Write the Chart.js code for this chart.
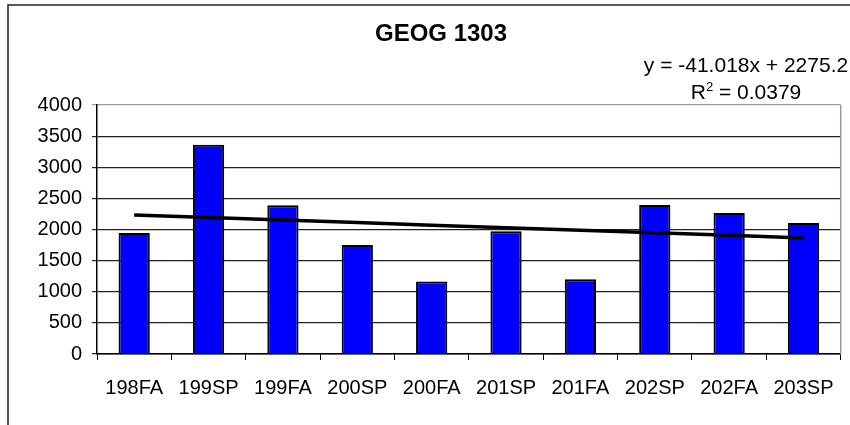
<!DOCTYPE html>
<html>
<head>
<meta charset="utf-8">
<title>GEOG 1303</title>
<script src="https://cdn.jsdelivr.net/npm/chart.js@4/dist/chart.umd.min.js"></script>
<style>
    html, body { margin: 0; padding: 0; background: #fff; }
    canvas { display: block; }
</style>
</head>
<body>
<canvas id="chart" width="850" height="425"></canvas>
<script>
// Terms along the x axis
const terms = ['198FA', '199SP', '199FA', '200SP', '200FA', '201SP', '201FA', '202SP', '202FA', '203SP'];

// Enrolment per term
const enrolment = [1945, 3360, 2390, 1750, 1165, 1970, 1200, 2395, 2265, 2105];

// Linear trendline as printed on the chart: y = slope * x + intercept
const trendSlope = -41.018;
const trendIntercept = 2275.2;
const trendR2 = 0.0379;

// Y axis range
const yMin = 0;
const yMax = 4000;
const yStep = 500;

const FONT = '"Liberation Sans", Arial, sans-serif';

// Excel numbers categories 1..n, so the trend is evaluated at those positions
const trendValues = terms.map((t, i) => trendIntercept + trendSlope * (i + 1));

/**
 * Draws the chart frame, the title and the trendline equation
 */
const decorations = {
    id: 'decorations',
    beforeDraw(chart) {
        const ctx = chart.ctx;
        ctx.save();
        ctx.fillStyle = '#fff';
        ctx.fillRect(0, 0, chart.width, chart.height);

        // Outer chart frame (runs off the right and bottom edges)
        ctx.strokeStyle = '#222';
        ctx.lineWidth = 1.5;
        ctx.beginPath();
        ctx.moveTo(8, chart.height + 2);
        ctx.lineTo(8, 5);
        ctx.lineTo(chart.width + 2, 5);
        ctx.stroke();
        ctx.restore();
    },
    afterDraw(chart) {
        const ctx = chart.ctx;
        const area = chart.chartArea;
        ctx.save();

        // Plot area border on the right side
        ctx.strokeStyle = '#999';
        ctx.lineWidth = 1.5;
        ctx.beginPath();
        ctx.moveTo(area.right, area.top);
        ctx.lineTo(area.right, area.bottom);
        ctx.stroke();

        // Title
        ctx.fillStyle = '#000';
        ctx.textAlign = 'center';
        ctx.textBaseline = 'alphabetic';
        ctx.font = 'bold 24px ' + FONT;
        ctx.fillText('GEOG 1303', 441, 41);

        // Trendline equation
        const cx = 746;
        ctx.font = '21px ' + FONT;
        const eq = 'y = ' + trendSlope.toFixed(3) + 'x + ' + trendIntercept.toFixed(1);
        ctx.fillText(eq, cx, 72);

        // R squared with a superscript 2
        const a = 'R';
        const b = ' = ' + trendR2.toFixed(4);
        ctx.font = '21px ' + FONT;
        const wa = ctx.measureText(a).width;
        const wb = ctx.measureText(b).width;
        ctx.font = '13px ' + FONT;
        const ws = ctx.measureText('2').width;
        let x = cx - (wa + ws + wb) / 2;
        ctx.textAlign = 'left';
        ctx.font = '21px ' + FONT;
        ctx.fillText(a, x, 99);
        x += wa;
        ctx.font = '13px ' + FONT;
        ctx.fillText('2', x, 91);
        x += ws;
        ctx.font = '21px ' + FONT;
        ctx.fillText(b, x, 99);

        ctx.restore();
    }
};

new Chart(document.getElementById('chart'), {
    type: 'bar',
    data: {
        labels: terms,
        datasets: [
            {
                type: 'line',
                label: 'Linear trend',
                data: trendValues,
                borderColor: '#000',
                borderWidth: 3.5,
                pointRadius: 0,
                tension: 0,
                fill: false,
                order: 0
            },
            {
                label: 'GEOG 1303',
                data: enrolment,
                backgroundColor: '#0000ff',
                borderColor: '#000',
                borderWidth: 2,
                barPercentage: 0.42,
                categoryPercentage: 1,
                order: 1
            }
        ]
    },
    options: {
        responsive: false,
        animation: false,
        layout: {
            padding: { top: 105, left: 0, right: 9, bottom: 0 }
        },
        plugins: {
            legend: { display: false },
            title: { display: false },
            tooltip: { enabled: false }
        },
        scales: {
            x: {
                offset: true,
                grid: {
                    offset: true,
                    drawOnChartArea: false,
                    drawTicks: true,
                    tickLength: 6,
                    color: '#000'
                },
                border: { color: '#000', width: 1.5 },
                ticks: {
                    color: '#000',
                    font: { family: FONT, size: 20 },
                    padding: 16,
                    maxRotation: 0,
                    autoSkip: false
                },
                afterFit(scale) { scale.height = 71; }
            },
            y: {
                min: yMin,
                max: yMax,
                grid: {
                    color: (c) => (c.tick && c.tick.value === yMax) ? '#999' : '#222',
                    lineWidth: 1.2,
                    tickLength: 5
                },
                border: { color: '#000', width: 1.5 },
                ticks: {
                    stepSize: yStep,
                    color: '#000',
                    font: { family: FONT, size: 20 },
                    padding: 10,
                    callback: (value) => String(value)
                },
                afterFit(scale) { scale.width = 97; }
            }
        }
    },
    plugins: [decorations]
});
</script>
</body>
</html>
